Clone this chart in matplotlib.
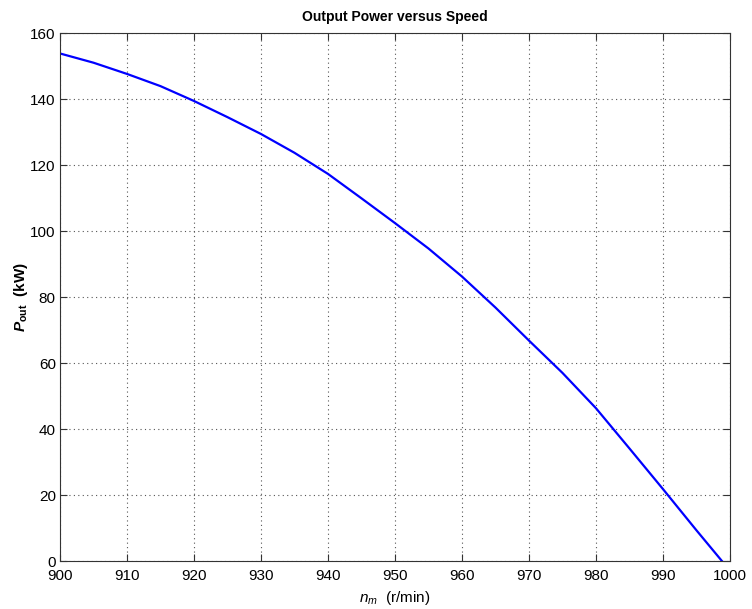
import matplotlib
matplotlib.use("Agg")
import matplotlib.pyplot as plt
import numpy as np

plt.rcParams['font.family'] = ['Liberation Sans', 'DejaVu Sans']
plt.rcParams['mathtext.fontset'] = 'custom'
plt.rcParams['mathtext.rm'] = 'Liberation Sans'
plt.rcParams['mathtext.it'] = 'Liberation Sans:italic'
plt.rcParams['mathtext.bf'] = 'Liberation Sans:bold'
plt.rcParams['mathtext.bfit'] = 'Liberation Sans:bold:italic'

speed = [900, 905, 910, 915, 920, 925, 930, 935, 940, 945, 950, 955, 960,
         965, 970, 975, 980, 985, 990, 995, 998.8]
power = [153.8, 151.0, 147.6, 143.9, 139.4, 134.5, 129.4, 123.7, 117.3, 109.9,
         102.4, 94.7, 86.2, 76.8, 66.8, 57.0, 46.3, 34.1, 21.8, 9.3, 0.0]
xticks = list(range(900, 1001, 10))
yticks = list(range(0, 161, 20))

fig = plt.figure(figsize=(7.52, 6.09), dpi=100)
ax = fig.add_axes([0.0798, 0.0788, 0.8909, 0.867])
ax.plot(speed, power, color='#0000ff', lw=1.6)
ax.set_xlim(900, 1000)
ax.set_ylim(0, 160)
ax.set_xticks(xticks)
ax.set_yticks(yticks)
ax.grid(True, color='#555555', linestyle=(0, (1, 3)), linewidth=0.8)
ax.tick_params(direction='in', top=True, right=True, length=5, width=0.8,
               labelsize=11, color='#333333')
ax.tick_params(axis='x', pad=6)
ax.tick_params(axis='y', pad=3)
for s in ax.spines.values():
    s.set_color('#333333')
    s.set_linewidth(0.8)
ax.set_title('Output Power versus Speed', fontsize=10, fontweight='bold', pad=9)
ax.set_xlabel(r'$\mathit{n}_{m}$  (r/min)', fontsize=11, labelpad=4)
ax.set_ylabel(r'$\mathbfit{P}_{\mathbf{out}}$  (kW)', fontsize=11, fontweight='bold', labelpad=0)
fig.savefig('out.png', dpi=100)
